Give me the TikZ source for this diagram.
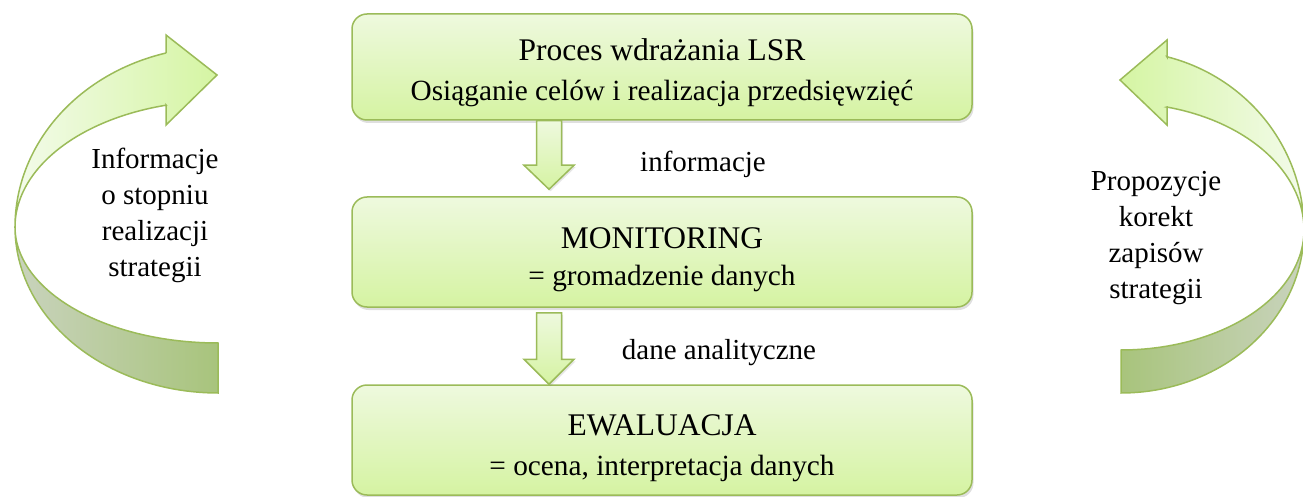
\documentclass[tikz,border=0pt]{standalone}
\usepackage{fontspec}
\setmainfont{Liberation Serif}
\newfontfamily\tnr{Liberation Serif}
\usetikzlibrary{shadows,calc}
\definecolor{bord}{HTML}{9BBB59}
\definecolor{boxtop}{HTML}{EEF9DE}
\definecolor{boxbot}{HTML}{D5F3A2}
\definecolor{lightA}{HTML}{F3FBEA}
\definecolor{lightB}{HTML}{D5F5A3}
\definecolor{darkA}{HTML}{C9D3BD}
\definecolor{darkB}{HTML}{A8C47C}
\tikzset{
  box/.style={draw=bord, line width=1.5pt, rounded corners=15pt, top color=boxtop, bottom color=boxbot,
    minimum width=620pt, minimum height=106pt, inner sep=0pt, align=center,
    font=\tnr\fontsize{29.3}{40}\selectfont,
    drop shadow={shadow xshift=1.5pt, shadow yshift=-3pt, opacity=0.25}},
  downarrow/.style={draw=bord, line width=1.5pt, line join=miter, top color=boxtop, bottom color=boxbot,
    drop shadow={shadow xshift=1.5pt, shadow yshift=-2pt, opacity=0.2}},
  lightpart/.style={draw=bord, line width=1.5pt, line join=miter},
  darkpart/.style={draw=bord, line width=1.5pt, line join=miter},
  lbl/.style={font=\tnr\fontsize{29}{36}\selectfont, align=center, inner sep=0pt}
}
\begin{document}
\begin{tikzpicture}[x=1pt,y=-1pt]
\useasboundingbox (0,0) rectangle (1303,497);
\clip (0,0) rectangle (1303,497);

% left curved arrow
\draw[darkpart, left color=darkA, right color=darkB]
  plot[domain=180:90, samples=50, variable=\t] ({218+203*cos(\t)},{227+166*sin(\t)})
  -- plot[domain=90:180, samples=50, variable=\t] ({218+203*cos(\t)},{227+116*sin(\t)}) -- cycle;
\draw[lightpart, left color=lightA, right color=lightB]
  (166,105) -- (166,125) -- (217,75) -- (166,35) -- (166,53)
  -- plot[domain=255.2:180, samples=50, variable=\t] ({218+203*cos(\t)},{227+180*sin(\t)})
  -- plot[domain=180:255.2, samples=50, variable=\t] ({218+203*cos(\t)},{227+126*sin(\t)}) -- cycle;

% right curved arrow
\draw[darkpart, left color=darkB, right color=darkA]
  plot[domain=0:90, samples=50, variable=\t] ({1121+183*cos(\t)},{230+163*sin(\t)})
  -- plot[domain=90:0, samples=50, variable=\t] ({1121+183*cos(\t)},{230+120*sin(\t)}) -- cycle;
\draw[lightpart, left color=lightB, right color=lightA]
  (1167,107) -- (1167,125) -- (1120,80) -- (1167,40) -- (1167,57)
  -- plot[domain=-75.5:0, samples=50, variable=\t] ({1121+183*cos(\t)},{230+179*sin(\t)})
  -- plot[domain=0:-75.5, samples=50, variable=\t] ({1121+183*cos(\t)},{230+127*sin(\t)}) -- cycle;

% boxes
\node[box] (b1) at (662,67) {{\fontsize{31.5}{40}\selectfont\rule{0pt}{33pt}Proces wdrażania LSR}\\Osiąganie celów i realizacja przedsięwzięć};
\node[box, minimum height=110pt] (b2) at (662,252) {{\fontsize{31.5}{40}\selectfont\rule{0pt}{37pt}MONITORING}\\[-3pt]= gromadzenie danych};
\node[box, minimum height=110pt] (b3) at (662,440) {{\fontsize{31.5}{40}\selectfont\rule{0pt}{37pt}EWALUACJA}\\= ocena, interpretacja danych};

% down arrows
\coordinate (a1s) at ($(b1.south)+(-113,0)$);
\coordinate (a1t) at ($(b2.north)+(-113,-7)$);
\draw[downarrow] ($(a1s)+(-12.5,0)$) -- ($(a1s)+(12.5,0)$) -- ($(a1t)+(12.5,-24)$) -- ($(a1t)+(25,-24)$)
  -- (a1t) -- ($(a1t)+(-25,-24)$) -- ($(a1t)+(-12.5,-24)$) -- cycle;
\coordinate (a2s) at ($(b2.south)+(-113,5)$);
\coordinate (a2t) at ($(b3.north)+(-113,0)$);
\draw[downarrow] ($(a2s)+(-12.5,0)$) -- ($(a2s)+(12.5,0)$) -- ($(a2t)+(12.5,-25)$) -- ($(a2t)+(25,-25)$)
  -- (a2t) -- ($(a2t)+(-25,-25)$) -- ($(a2t)+(-12.5,-25)$) -- cycle;

% labels
\node[lbl] (l1) at (703,164) {informacje};
\node[lbl] (l2) at (719,353) {dane analityczne};
\node[lbl] (lt) at (155,215) {Informacje\\o stopniu\\realizacji\\strategii};
\node[lbl] (rt) at (1156,238) {Propozycje\\korekt\\zapisów\\strategii};
\end{tikzpicture}
\end{document}
